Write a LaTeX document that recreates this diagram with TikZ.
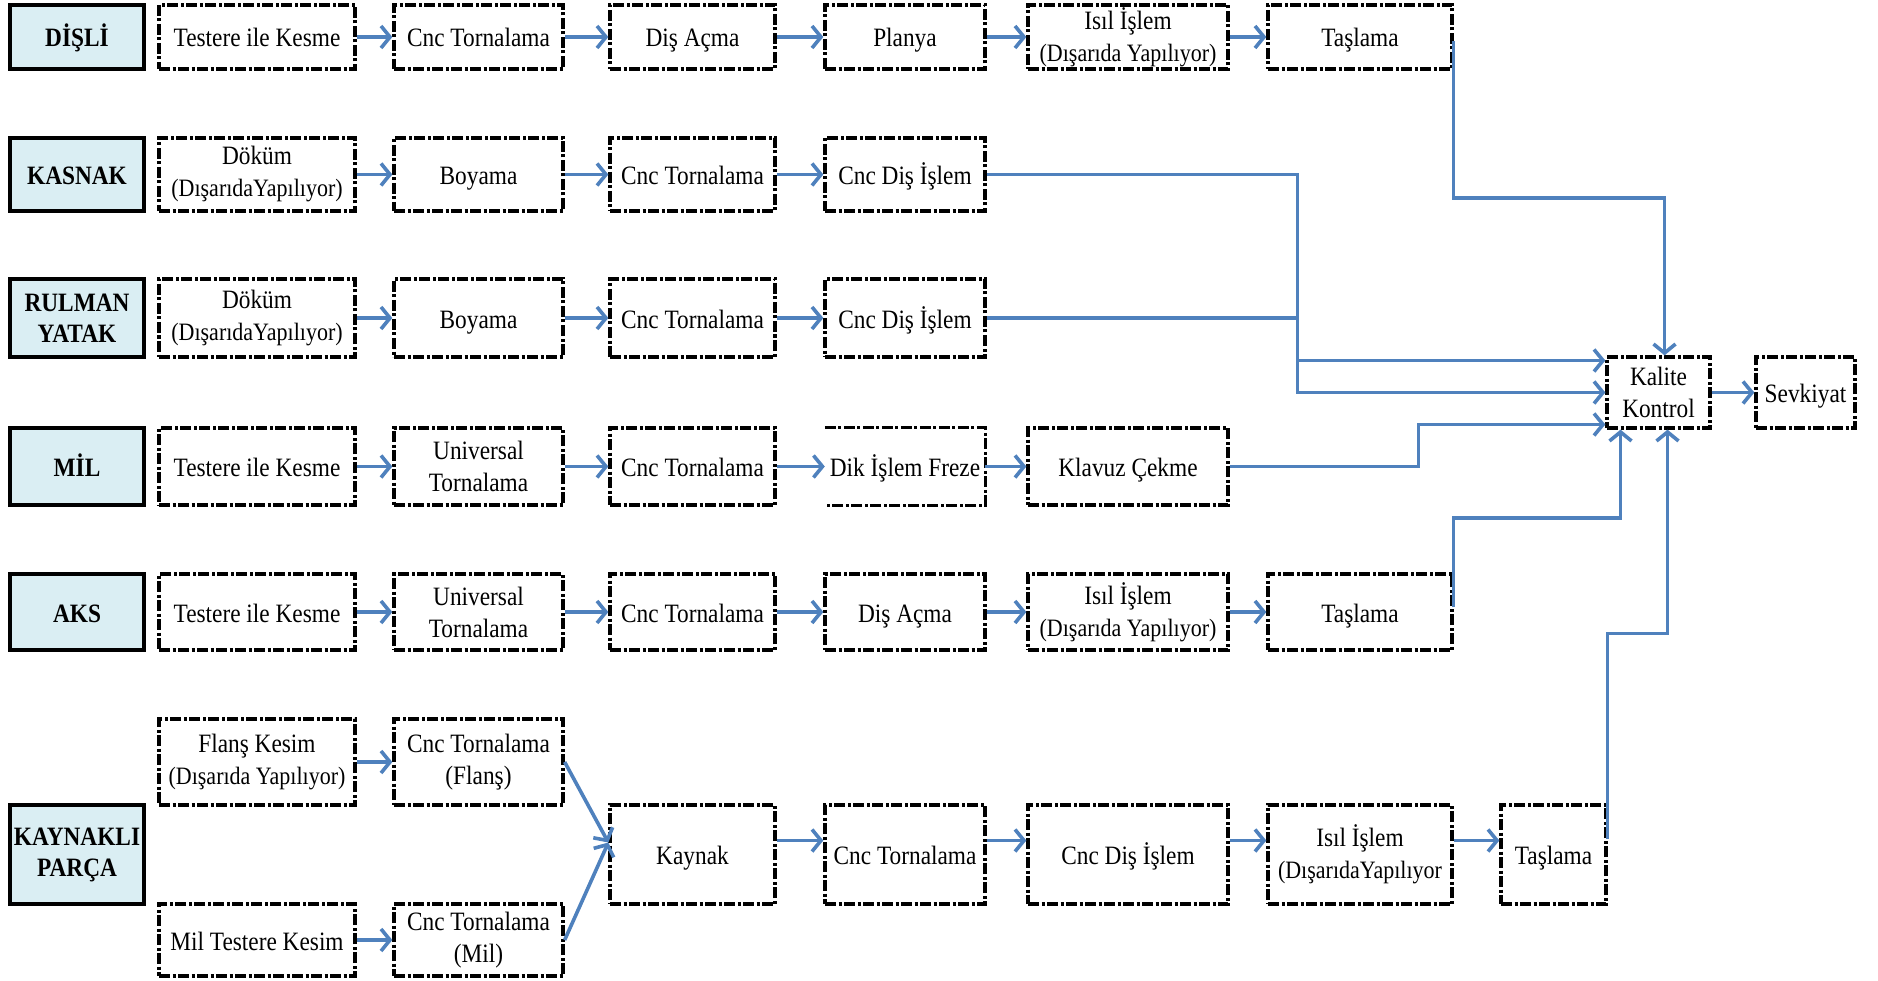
\documentclass[tikz,border=0pt]{standalone}
\usepackage{fontspec}
\setmainfont{Liberation Serif}[FakeStretch=0.88]
\usetikzlibrary{arrows.meta}
\definecolor{flowblue}{HTML}{4F81BD}
\definecolor{headfill}{HTML}{DAEEF3}
\newcommand\subline[1]{{\fontsize{25}{32}\selectfont #1}}

\begin{document}
\begin{tikzpicture}[x=1pt,y=-1pt,
  every node/.style={font=\fontsize{26.5}{32}\selectfont, align=center, inner sep=0pt},
  sz/.style 2 args={minimum width=#1pt, minimum height=#2pt},
  one/.style={text height=24pt, text depth=4pt},
  proc/.style={draw=black, line width=3.3pt, dash pattern=on 11pt off 2.5pt on 3pt off 2.5pt, fill=white},
  procline/.style={draw=black, line width=3.3pt, dash pattern=on 11pt off 2.5pt on 3pt off 2.5pt},
  head/.style={draw=black, line width=4.5pt, fill=headfill, font=\fontsize{26.5}{31}\selectfont\bfseries},
  flow/.style={draw=flowblue, line width=3.6pt, -{Straight Barb[length=9pt,width=22pt,line width=3.6pt]}},
]
\useasboundingbox (0,0) rectangle (1878,981);

% ---- DİŞLİ
\node[head, one, sz={134}{64}] (h1) at (77,37) {DİŞLİ};
\node[proc, one, sz={196}{64}] (a1) at (257,37) {Testere ile Kesme};
\node[proc, one, sz={169}{64}] (a2) at (478.5,37) {Cnc Tornalama};
\node[proc, one, sz={165}{64}] (a3) at (692.5,37) {Diş Açma};
\node[proc, one, sz={160}{64}] (a4) at (905,37) {Planya};
\node[proc, sz={200}{64}] (a5) at (1128,37) {Isıl İşlem\\\subline{(Dışarıda Yapılıyor)}};
\node[proc, one, sz={184}{64}] (a6) at (1360,37) {Taşlama};

% ---- KASNAK
\node[head, one, sz={134}{73}] (h2) at (77,174.5) {KASNAK};
\node[proc, sz={196}{73}] (b1) at (257,174.5) {Döküm\\\subline{(DışarıdaYapılıyor)}};
\node[proc, one, sz={169}{73}] (b2) at (478.5,174.5) {Boyama};
\node[proc, one, sz={165}{73}] (b3) at (692.5,174.5) {Cnc Tornalama};
\node[proc, one, sz={160}{73}] (b4) at (905,174.5) {Cnc Diş İşlem};

% ---- RULMAN YATAK
\node[head, sz={134}{78}] (h3) at (77,318) {RULMAN\\YATAK};
\node[proc, sz={196}{78}] (c1) at (257,318) {Döküm\\\subline{(DışarıdaYapılıyor)}};
\node[proc, one, sz={169}{78}] (c2) at (478.5,318) {Boyama};
\node[proc, one, sz={165}{78}] (c3) at (692.5,318) {Cnc Tornalama};
\node[proc, one, sz={160}{78}] (c4) at (905,318) {Cnc Diş İşlem};

% ---- MİL
\node[head, one, sz={134}{77}] (h4) at (77,466.5) {MİL};
\node[proc, one, sz={196}{77}] (d1) at (257,466.5) {Testere ile Kesme};
\node[proc, sz={169}{77}] (d2) at (478.5,466.5) {Universal\\Tornalama};
\node[proc, one, sz={165}{77}] (d3) at (692.5,466.5) {Cnc Tornalama};
\node[fill=white, one, sz={160}{77}] (d4) at (905,466.5) {Dik İşlem Freze};
\draw[procline] (d4.north west) -- (d4.north east) -- (d4.south east) -- (d4.south west);
\node[proc, one, sz={200}{77}] (d5) at (1128,466.5) {Klavuz Çekme};

% ---- AKS
\node[head, one, sz={134}{76}] (h5) at (77,612) {AKS};
\node[proc, one, sz={196}{76}] (e1) at (257,612) {Testere ile Kesme};
\node[proc, sz={169}{76}] (e2) at (478.5,612) {Universal\\Tornalama};
\node[proc, one, sz={165}{76}] (e3) at (692.5,612) {Cnc Tornalama};
\node[proc, one, sz={160}{76}] (e4) at (905,612) {Diş Açma};
\node[proc, sz={200}{76}] (e5) at (1128,612) {Isıl İşlem\\\subline{(Dışarıda Yapılıyor)}};
\node[proc, one, sz={184}{76}] (e6) at (1360,612) {Taşlama};

% ---- KAYNAKLI PARÇA
\node[head, sz={134}{99}] (h6) at (77,854.5) {KAYNAKLI\\PARÇA};
\node[proc, sz={196}{86}] (f1) at (257,762) {Flanş Kesim\\\subline{(Dışarıda Yapılıyor)}};
\node[proc, sz={169}{86}] (f2) at (478.5,762) {Cnc Tornalama\\(Flanş)};
\node[proc, one, sz={196}{72}] (g1) at (257,940) {Mil Testere Kesim};
\node[proc, sz={169}{72}] (g2) at (478.5,940) {Cnc Tornalama\\(Mil)};
\node[proc, one, sz={165}{99}] (k1) at (692.5,854.5) {Kaynak};
\node[proc, one, sz={160}{99}] (k2) at (905,854.5) {Cnc Tornalama};
\node[proc, one, sz={200}{99}] (k3) at (1128,854.5) {Cnc Diş İşlem};
\node[proc, sz={184}{99}] (k4) at (1360,854.5) {Isıl İşlem\\\subline{(DışarıdaYapılıyor}};
\node[proc, one, sz={105}{99}] (k5) at (1553.5,854.5) {Taşlama};

% ---- final steps
\node[proc, sz={103}{71}] (kk) at (1658.5,392.5) {Kalite\\Kontrol};
\node[proc, one, sz={99}{71}] (sv) at (1805.5,392.5) {Sevkiyat};

% ---- flows within rows
\draw[flow] (a1.east) -- (a2.west);
\draw[flow] (a2.east) -- (a3.west);
\draw[flow] (a3.east) -- (a4.west);
\draw[flow] (a4.east) -- (a5.west);
\draw[flow] (a5.east) -- (a6.west);

\draw[flow] (b1.east) -- (b2.west);
\draw[flow] (b2.east) -- (b3.west);
\draw[flow] (b3.east) -- (b4.west);

\draw[flow] (c1.east) -- (c2.west);
\draw[flow] (c2.east) -- (c3.west);
\draw[flow] (c3.east) -- (c4.west);

\draw[flow] (d1.east) -- (d2.west);
\draw[flow] (d2.east) -- (d3.west);
\draw[flow] (d3.east) -- (d4.west);
\draw[flow] (d4.east) -- (d5.west);

\draw[flow] (e1.east) -- (e2.west);
\draw[flow] (e2.east) -- (e3.west);
\draw[flow] (e3.east) -- (e4.west);
\draw[flow] (e4.east) -- (e5.west);
\draw[flow] (e5.east) -- (e6.west);

\draw[flow] (f1.east) -- (f2.west);
\draw[flow] (g1.east) -- (g2.west);
\draw[flow] (f2.east) -- ([yshift=12pt]k1.west);
\draw[flow] (g2.east) -- ([yshift=12pt]k1.west);
\draw[flow] ([yshift=14pt]k1.east) -- ([yshift=14pt]k2.west);
\draw[flow] ([yshift=14pt]k2.east) -- ([yshift=14pt]k3.west);
\draw[flow] ([yshift=14pt]k3.east) -- ([yshift=14pt]k4.west);
\draw[flow] ([yshift=14pt]k4.east) -- ([yshift=14pt]k5.west);

% ---- collecting lines into quality control
\draw[flow] ([yshift=-4pt]a6.east) -- ++(0,157) -| ([xshift=6pt]kk.north);
\draw[flow] (b4.east) -- ++(311,0) |- (kk.west);
\draw[flow] (c4.east) -- ++(311,0) |- ([yshift=32pt]kk.west);
\draw[flow] (d5.east) -- ++(189,0) |- ([yshift=-32pt]kk.west);
\draw[flow] ([yshift=5pt]e6.east) -- ++(0,-89) -| ([xshift=-38pt]kk.south);
\draw[flow] ([yshift=16pt]k5.east) -- ++(0,-205) -| ([xshift=9pt]kk.south);
\draw[flow] (kk.east) -- (sv.west);
\end{tikzpicture}
\end{document}
